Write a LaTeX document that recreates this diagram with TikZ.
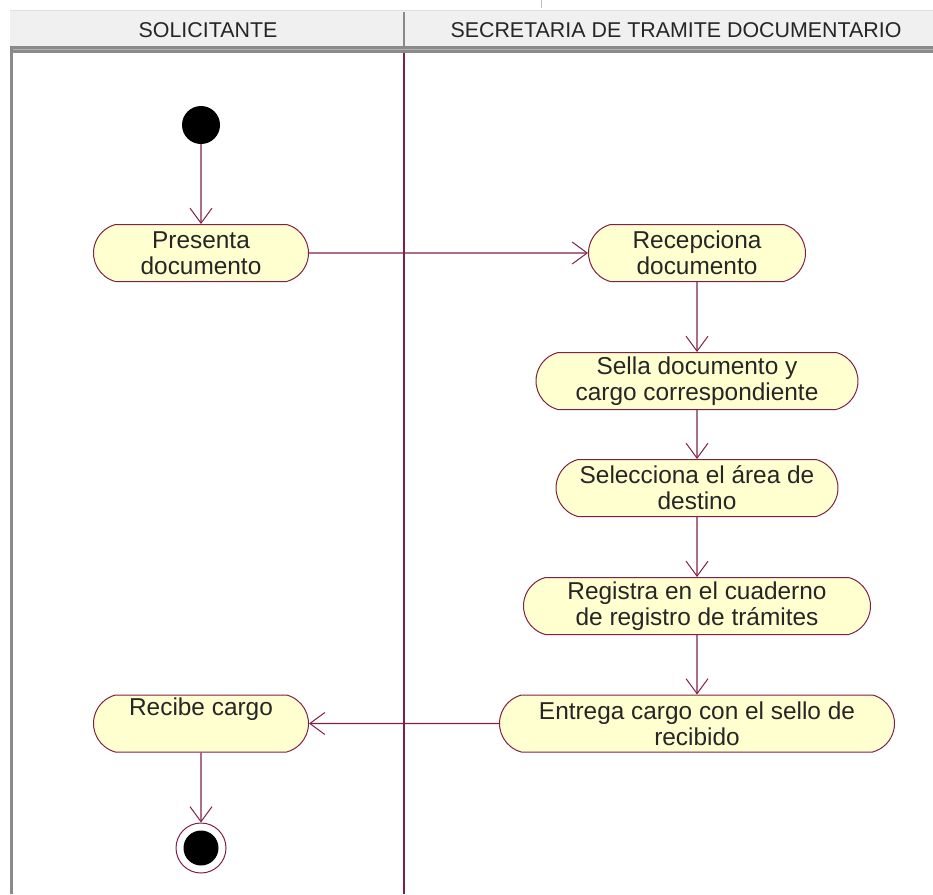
\documentclass[tikz,border=0pt]{standalone}
\usepackage{fontspec}
\setmainfont{Liberation Sans}
\usetikzlibrary{shapes.misc,arrows.meta}
\definecolor{wire}{RGB}{128,32,72}
\definecolor{actfill}{RGB}{255,255,208}
\definecolor{hdrfill}{RGB}{240,240,240}
\definecolor{hdrline}{RGB}{138,138,138}
\begin{document}
\begin{tikzpicture}[x=1pt,y=-1pt,
  activity/.style={draw=wire, line width=1pt, fill=actfill,
    rounded rectangle, rounded rectangle arc length=150,
    minimum height=57pt, inner sep=0pt, align=center,
    font=\fontsize{24.4}{26}\selectfont, text=black!85},
  flow/.style={draw=wire, line width=1.2pt,
    -{Straight Barb[length=15pt,width=22pt,line width=1pt]}},
  lanehead/.style={font=\fontsize{21.4}{24}\selectfont, text=black!85},
  initial/.style={circle, fill=black, minimum size=38pt, inner sep=0pt},
  final/.style={circle, draw=wire, line width=1pt, fill=white,
    minimum size=50pt, inner sep=0pt}]
\useasboundingbox (0,0) rectangle (933,894);

% swimlane header
\fill[hdrfill] (10,10) rectangle (933,46);
\draw[black!12, line width=1pt] (10,10.5) -- (933,10.5);
\fill[hdrline] (10,46) rectangle (933,52.5);
\draw[black!30, line width=1pt] (10,49.2) -- (933,49.2);
\draw[black!25, line width=0.8pt] (541,0) -- (541,8);
\fill[hdrline] (10,46) rectangle (12.5,894);
\draw[hdrline, line width=1.5pt] (404,12) -- (404,46);
\draw[wire, line width=1.2pt] (404,52.5) -- (404,894);
\node[lanehead] (laneA) at (208,30) {SOLICITANTE};
\node[lanehead] (laneB) at (676,30) {SECRETARIA DE TRAMITE DOCUMENTARIO};

% activities
\node[initial] (start) at (201,125) {};
\node[activity, minimum width=215pt] (pres) at (201,253) {Presenta\\documento};
\node[activity, minimum width=217pt] (rec) at (697,253) {Recepciona\\documento};
\node[activity, minimum width=322pt] (sel1) at (697,381) {Sella documento y\\cargo correspondiente};
\node[activity, minimum width=282pt] (sel2) at (697,488) {Selecciona el área de\\destino};
\node[activity, minimum width=347pt] (reg) at (697,606) {Registra en el cuaderno\\de registro de trámites};
\node[activity, minimum width=395pt] (ent) at (697,723.5) {Entrega cargo con el sello de\\recibido};
\node[activity, minimum width=215pt] (recibe) at (201,723.5) {Recibe cargo\\\strut};
\node[final] (fin) at (201,848) {};
\fill[black] (fin.center) circle (17.5pt);

% control flow
\draw[flow] (start) -- (pres);
\draw[flow] (pres) -- (rec);
\draw[flow] (rec) -- (sel1);
\draw[flow] (sel1) -- (sel2);
\draw[flow] (sel2) -- (reg);
\draw[flow] (reg) -- (ent);
\draw[flow] (ent) -- (recibe);
\draw[flow] (recibe) -- (fin);
\end{tikzpicture}
\end{document}
